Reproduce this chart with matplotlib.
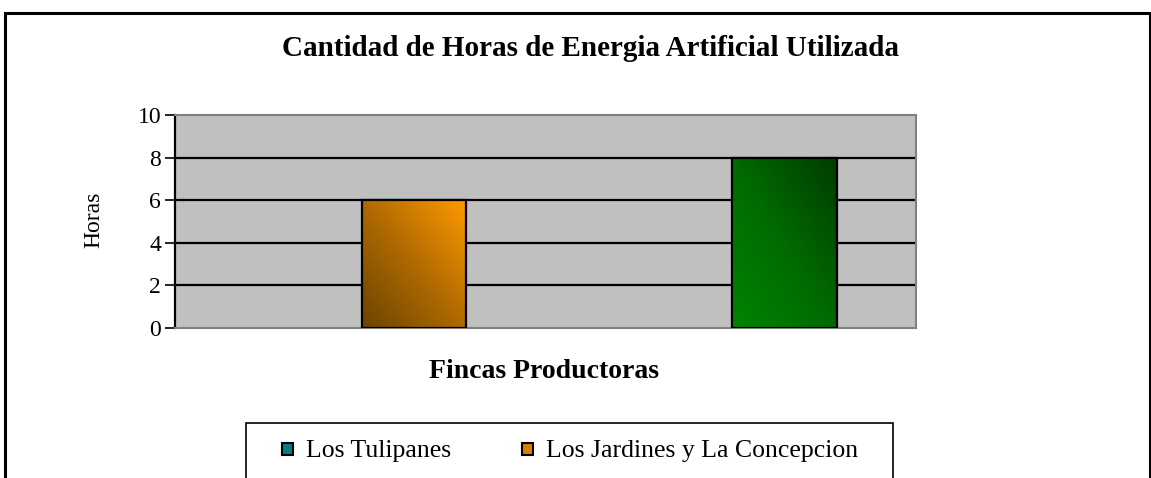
import numpy as np
import matplotlib
matplotlib.use("Agg")
import matplotlib.pyplot as plt
from matplotlib.patches import Rectangle
from matplotlib.colors import LinearSegmentedColormap

categories = ["Los Tulipanes", "Los Jardines y La Concepcion"]
series_names = ["Los Tulipanes", "Los Jardines y La Concepcion"]
tulipanes_values = [0, 0]
jardines_values = [6, 8]
yticks = [0, 2, 4, 6, 8, 10]
title = "Cantidad de Horas de Energia Artificial Utilizada"
xlabel = "Fincas Productoras"
ylabel = "Horas"

plt.rcParams['font.family'] = ['Liberation Serif', 'DejaVu Serif']

W, H = 1151, 478
fig = plt.figure(figsize=(W / 100, H / 100), dpi=100)

# outer chart border
fig.patches.append(Rectangle((5 / W, -0.05), 1145 / W, 1 - 13 / H + 0.05,
                             transform=fig.transFigure, fill=False,
                             edgecolor='black', linewidth=2.2))

ax = fig.add_axes([175 / W, 1 - 328 / H, (916 - 175) / W, (328 - 115) / H])
ax.set_facecolor('#C0C0C0')
ax.set_xlim(-0.5, 1.5)
ax.set_ylim(0, 10)
ax.set_yticks(yticks)
ax.set_yticklabels([str(v) for v in yticks], fontsize=17)
ax.set_xticks([])
for y in yticks[1:-1]:
    ax.axhline(y, color='black', linewidth=1.6, zorder=1)
for s in ['top', 'right', 'bottom']:
    ax.spines[s].set_color('#808080')
    ax.spines[s].set_linewidth(1.5)
ax.spines['left'].set_color('black')
ax.spines['left'].set_linewidth(1.6)
ax.tick_params(axis='y', direction='out', length=7, width=1.2, pad=3)

x = np.arange(len(categories))
bw = 0.283
off = 0.145

orange_cmap = LinearSegmentedColormap.from_list('o', ['#6A4300', '#B06A00', '#FF9A00'])
green_cmap = LinearSegmentedColormap.from_list('g', ['#008400', '#006A00', '#003C00'])
point_cmaps = [orange_cmap, green_cmap]

# Tulipanes series (zero values)
ax.bar(x - off, tulipanes_values, bw, color='#008080', edgecolor='none', zorder=2)

bars = ax.bar(x + off, jardines_values, bw, color='none', edgecolor='black',
              linewidth=1.6, zorder=3)
gx, gy = np.meshgrid(np.linspace(0, 1, 200), np.linspace(0, 1, 200))
grad = (gx + gy) / 2.0
for b, cm in zip(bars, point_cmaps):
    x0, y0 = b.get_x(), b.get_y()
    w, h = b.get_width(), b.get_height()
    im = ax.imshow(grad, cmap=cm, origin='lower', extent=[x0, x0 + w, y0, y0 + h],
                   aspect='auto', zorder=2.5, interpolation='bilinear')
    im.set_clip_path(b)
ax.set_xlim(-0.5, 1.5)
ax.set_ylim(0, 10)

fig.text(590 / W, 1 - 48 / H, title, ha='center', va='center',
         fontsize=21, fontweight='bold')
fig.text(544 / W, 1 - 371 / H, xlabel, ha='center', va='center',
         fontsize=20, fontweight='bold')
fig.text(94 / W, 1 - 220 / H, ylabel, ha='center', va='center',
         fontsize=17, rotation=90)

# legend box
fig.patches.append(Rectangle((246 / W, -0.05), (893 - 246) / W, 1 - 423 / H + 0.05,
                             transform=fig.transFigure, fill=False,
                             edgecolor='black', linewidth=1.2))
leg_items = [(282, '#008080', series_names[0]), (522, '#D98200', series_names[1])]
for lx, col, name in leg_items:
    fig.patches.append(Rectangle((lx / W, 1 - 455 / H), 11 / W, 12 / H,
                                 transform=fig.transFigure, facecolor=col,
                                 edgecolor='black', linewidth=1.5))
    fig.text((lx + 24) / W, 1 - 457 / H, name, ha='left', va='baseline', fontsize=18.5)

fig.savefig('out.png', dpi=100)
